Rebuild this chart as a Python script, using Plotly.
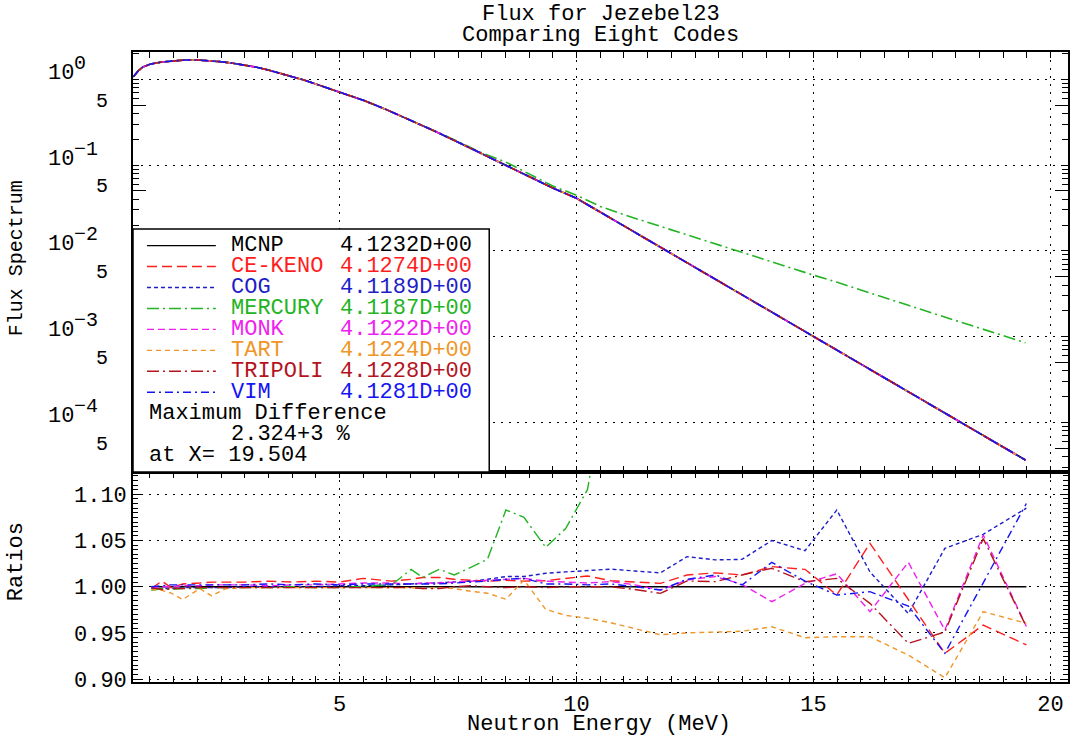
import math
import plotly.graph_objects as go

# ---------------- data ----------------
codes = ["MCNP", "CE-KENO", "COG", "MERCURY", "MONK", "TART", "TRIPOLI", "VIM"]
integrals = ["4.1232D+00", "4.1274D+00", "4.1189D+00", "4.1187D+00",
             "4.1222D+00", "4.1224D+00", "4.1228D+00", "4.1281D+00"]
colors = ["#000000", "#ff1e1e", "#1e1ec8", "#22b422",
          "#f020f0", "#f09628", "#b4141e", "#1414f5"]
dashes = ["solid", "10px,5px", "4px,3px", "12px,4px,2px,4px",
          "7px,4px", "5px,4px", "12px,4px,2px,4px", "8px,4px,2px,4px"]

energy_flux = [0.65, 0.75, 0.85, 1.0, 1.25, 1.5, 1.75, 2.0, 2.25, 2.5, 2.75, 3.0,
               3.25, 3.5, 3.75, 4.0, 4.25, 4.5, 4.75, 5.0, 5.5, 6.0, 6.5, 7.0, 7.5,
               8.0, 8.5, 9.0, 9.5, 10.0, 10.5, 11.0, 11.5, 12.0, 12.5, 13.0, 13.5,
               14.0, 14.5, 15.0, 15.5, 16.0, 16.5, 17.0, 17.5, 18.0, 18.5, 19.0, 19.47]
flux_main = [1.07, 1.25, 1.39, 1.50, 1.59, 1.65, 1.68, 1.68, 1.65, 1.60, 1.54, 1.47,
             1.38, 1.28, 1.18, 1.07, 0.98, 0.88, 0.80, 0.717, 0.57, 0.44, 0.335, 0.25,
             0.185, 0.136, 0.101, 0.074, 0.054, 0.041, 0.0283, 0.0195, 0.0135, 0.0093,
             0.0064, 0.0044, 0.00305, 0.0021, 0.00145, 0.00100, 0.00069, 0.00048,
             0.00033, 0.000227, 0.000157, 0.000108, 0.0000745, 0.0000515, 0.0000365]
flux_mercury = [1.07, 1.25, 1.39, 1.50, 1.59, 1.65, 1.68, 1.68, 1.65, 1.60, 1.54, 1.47,
                1.38, 1.28, 1.18, 1.07, 0.98, 0.88, 0.80, 0.717, 0.57, 0.44, 0.336, 0.252,
                0.188, 0.139, 0.109, 0.079, 0.057, 0.0445, 0.0330, 0.0264, 0.0215, 0.0176,
                0.0143, 0.01172, 0.0095, 0.00782, 0.0064, 0.00521, 0.0043, 0.00348,
                0.00285, 0.00232, 0.00189, 0.00155, 0.00127, 0.00103, 0.00085]

energy_ratio = [1.03, 1.25, 1.45, 1.69, 2.05, 2.3, 2.6, 3.0, 3.5, 4.0, 4.5, 5.0, 5.5,
                6.1, 6.51, 6.75, 7.1, 7.42, 7.77, 8.12, 8.51, 8.89, 9.35, 9.77, 10.23,
                10.72, 11.23, 11.77, 12.33, 12.93, 13.49, 14.12, 14.82, 15.49, 16.19,
                17.0, 17.77, 18.58, 19.49]
ratio_mcnp = [1.0] * 39
ratio_cekeno = [0.998, 1.006, 0.999, 1.003, 1.004, 1.005, 1.005, 1.005, 1.006, 1.005,
                1.006, 1.005, 1.009, 1.006, 1.008, 1.010, 1.010, 1.008, 1.007, 1.006,
                1.007, 1.006, 1.0065, 1.009, 1.0116, 1.0065, 1.005, 1.0036, 1.0127,
                1.015, 1.0127, 1.0217, 1.0188, 0.991, 1.047, 0.9856, 0.928, 0.9585, 0.937]
ratio_cog = [0.998, 0.998, 0.998, 0.999, 0.999, 0.999, 0.999, 1.0, 1.0, 1.0, 1.0, 1.001,
             1.001, 1.002, 1.003, 1.003, 1.004, 1.005, 1.006, 1.008, 1.011, 1.011, 1.0145,
             1.016, 1.0173, 1.019, 1.017, 1.015, 1.0325, 1.029, 1.0296, 1.050, 1.039,
             1.083, 1.016, 0.971, 1.0415, 1.0567, 1.085]
ratio_mercury = [0.996, 0.998, 0.997, 0.998, 0.998, 0.999, 0.999, 0.999, 0.999, 1.0,
                 0.999, 0.999, 1.0, 1.002, 1.0188, 1.010, 1.0188, 1.0127, 1.021, 1.0297,
                 1.083, 1.075, 1.0426, 1.063, 1.105, 1.25, 1.40]
ratio_monk = [0.999, 1.0, 1.0, 1.001, 1.001, 1.002, 1.002, 1.002, 1.001, 1.002, 1.002,
              1.003, 1.004, 1.004, 1.003, 1.004, 1.004, 1.005, 1.006, 1.007, 1.008, 1.009,
              1.006, 1.005, 1.004, 1.0055, 1.002, 0.9964, 1.0072, 1.011, 1.0025, 0.9838,
              1.0036, 1.014, 0.973, 1.0264, 0.953, 1.056, 0.957]
ratio_tart = [0.997, 0.996, 0.993, 0.986, 0.998, 0.990, 0.998, 0.999, 0.999, 0.999,
              0.999, 0.999, 0.999, 0.999, 0.999, 0.998, 0.999, 0.998, 0.995, 0.993,
              0.9864, 1.0073, 0.9755, 0.969, 0.966, 0.961, 0.955, 0.948, 0.950, 0.9506,
              0.9518, 0.9567, 0.9448, 0.9459, 0.9459, 0.926, 0.9015, 0.973, 0.9604]
ratio_tripoli = [0.999, 0.997, 0.998, 0.998, 0.999, 0.999, 0.999, 0.999, 0.999, 0.999,
                 0.999, 0.999, 0.999, 0.999, 0.999, 0.998, 0.998, 1.0, 1.001, 1.0, 0.999,
                 1.0, 0.999, 1.0, 1.0, 1.0, 0.997, 0.9928, 1.0062, 1.0055, 1.0127, 1.0199,
                 1.0054, 1.009, 0.982, 0.9387, 0.951, 1.052, 0.9567]
ratio_vim = [1.0, 1.001, 1.002, 1.002, 1.002, 1.002, 1.002, 1.002, 1.003, 1.002, 1.003,
             1.002, 1.003, 1.003, 1.003, 1.003, 1.003, 1.004, 1.005, 1.006, 1.008, 1.009,
             1.003, 1.003, 1.002, 1.003, 1.0, 0.9964, 1.008, 1.0127, 1.0018, 1.0264,
             1.006, 0.991, 0.9946, 0.979, 0.928, 1.0037, 1.090]

flux_series = [flux_main, flux_main, flux_main, flux_mercury,
               flux_main, flux_main, flux_main, flux_main]
ratio_series = [ratio_mcnp, ratio_cekeno, ratio_cog, ratio_mercury,
                ratio_monk, ratio_tart, ratio_tripoli, ratio_vim]

max_diff_text = ["Maximum Difference", "2.324+3 %", "at X= 19.504"]
title_lines = ["Flux for Jezebel23", "Comparing Eight Codes"]

# ---------------- figure ----------------
FONT = "Liberation Mono, Courier New, monospace"
W, H = 1073, 738
ML, MR, MT, MB = 133, 3, 52, 56
PW, PH = W - ML - MR, H - MT - MB
PLOT_L, PLOT_B = ML, H - MB


def px_x(px):
    return (px - PLOT_L) / PW


def px_y(py):
    return (PLOT_B - py) / PH


fig = go.Figure()
for i, name in enumerate(codes):
    fig.add_trace(go.Scatter(
        x=energy_flux, y=flux_series[i], mode="lines", name=name,
        line=dict(color=colors[i], dash=dashes[i], width=1.6),
        xaxis="x", yaxis="y", showlegend=False))
for i, name in enumerate(codes):
    r = ratio_series[i]
    fig.add_trace(go.Scatter(
        x=energy_ratio[:len(r)], y=r, mode="lines", name=name,
        line=dict(color=colors[i], dash=dashes[i], width=1.4),
        xaxis="x2", yaxis="y2", showlegend=False))
# carrier for the tick-only overlay axis
fig.add_trace(go.Scatter(x=[None], y=[None], xaxis="x", yaxis="y3",
                         showlegend=False, hoverinfo="skip"))

GRIDDASH = "2px,6px"
xrange_ = [0.642, 20.368]
xminor = [1.0 + 0.5 * k for k in range(38)]
common_x = dict(range=xrange_, showline=True, linecolor="black", linewidth=1.6,
                mirror="ticks", ticks="inside", ticklen=6, tickcolor="black",
                tickvals=[5, 10, 15, 20], showgrid=True, gridcolor="black",
                griddash=GRIDDASH, gridwidth=1.4, zeroline=False,
                minor=dict(tickvals=xminor, ticks="inside", ticklen=6,
                           tickcolor="black", showgrid=False))

decades = [1e-4, 1e-3, 1e-2, 1e-1, 1.0]
fives = [5e-5, 5e-4, 5e-3, 5e-2, 5e-1]
yminor = [m * 10.0 ** e for e in range(-5, 1) for m in (2, 3, 4, 6, 7, 8, 9)]
log_range = [-4.577, 0.318]

ratio_ticks = [0.90, 0.95, 1.00, 1.05, 1.10]
ratio_minor = [round(0.895 + 0.005 * k, 3) for k in range(47)]

fig.update_layout(
    width=W, height=H, margin=dict(l=ML, r=MR, t=MT, b=MB),
    paper_bgcolor="white", plot_bgcolor="white",
    font=dict(family=FONT, size=22, color="black"),
    xaxis=dict(domain=[0, 1], anchor="y", showticklabels=False, **common_x),
    xaxis2=dict(domain=[0, 1], anchor="y2", matches="x", showticklabels=True,
                tickfont=dict(family=FONT, size=22), ticklabelstandoff=1, **common_x),
    yaxis=dict(domain=[1 / 3, 1], anchor="x", type="log", range=log_range,
               tickvals=decades, ticks="inside", ticklen=6, tickcolor="black",
               showticklabels=False, showgrid=True, gridcolor="black",
               griddash=GRIDDASH, gridwidth=1.4, showline=True, linecolor="black",
               linewidth=1.6, mirror="ticks", zeroline=False,
               minor=dict(tickvals=yminor, ticks="inside", ticklen=6,
                          tickcolor="black", showgrid=False)),
    yaxis3=dict(overlaying="y", anchor="x", type="log", range=log_range,
                tickvals=fives, ticks="inside", ticklen=13, tickcolor="black",
                showticklabels=False, showgrid=False, showline=False,
                mirror="ticks", zeroline=False, side="left"),
    yaxis2=dict(domain=[0, 1 / 3], anchor="x2", range=[0.8969, 1.1241],
                tickvals=ratio_ticks, ticktext=["%.2f" % v for v in ratio_ticks],
                ticks="inside", ticklen=8, tickcolor="black",
                tickfont=dict(family=FONT, size=22), ticklabelstandoff=0,
                showgrid=True, gridcolor="black", griddash=GRIDDASH, gridwidth=1.4,
                showline=True, linecolor="black", linewidth=1.6, mirror="ticks",
                zeroline=False,
                minor=dict(tickvals=ratio_minor, ticks="inside", ticklen=5,
                           tickcolor="black", showgrid=False)),
)

ann = []
# title
for k, t in enumerate(title_lines):
    ann.append(dict(text=t, xref="paper", yref="paper", x=0.5, y=px_y(15 + 20 * k),
                    xanchor="center", yanchor="middle", showarrow=False,
                    font=dict(family=FONT, size=22)))
# axis titles
ann.append(dict(text="Neutron Energy (MeV)", xref="paper", yref="paper",
                x=px_x(600), y=px_y(724), xanchor="center", yanchor="middle",
                showarrow=False, font=dict(family=FONT, size=22)))
ann.append(dict(text="Flux Spectrum", xref="paper", yref="paper", x=px_x(16),
                y=px_y(258), textangle=-90, xanchor="center", yanchor="middle",
                showarrow=False, font=dict(family=FONT, size=20)))
ann.append(dict(text="Ratios", xref="paper", yref="paper", x=px_x(16),
                y=px_y(562), textangle=-90, xanchor="center", yanchor="middle",
                showarrow=False, font=dict(family=FONT, size=22)))
# log-axis tick labels: "10" and its exponent
for d in decades:
    e = int(round(math.log10(d)))
    exp_txt = str(e) if e >= 0 else "\u2212" + str(-e)
    ann.append(dict(text="10", xref="paper", yref="y", x=px_x(46), y=math.log10(d),
                    xanchor="left", yanchor="middle", yshift=6, showarrow=False,
                    font=dict(family=FONT, size=22)))
    ann.append(dict(text=exp_txt, xref="paper", yref="y", x=px_x(72),
                    y=math.log10(d), xanchor="left", yanchor="middle", yshift=16,
                    showarrow=False, font=dict(family=FONT, size=20)))
for f in fives:
    ann.append(dict(text="5", xref="paper", yref="y", x=px_x(110), y=math.log10(f),
                    xanchor="right", yanchor="middle", yshift=4, showarrow=False,
                    font=dict(family=FONT, size=20)))

# custom legend box
shapes = [dict(type="rect", xref="paper", yref="paper", x0=0, x1=px_x(490),
               y0=1 / 3, y1=px_y(229), fillcolor="white",
               line=dict(color="black", width=1.5), layer="above")]
row0, pitch = 245.6, 20.95
for i, name in enumerate(codes):
    yy = px_y(row0 + pitch * i)
    shapes.append(dict(type="line", xref="paper", yref="paper", x0=px_x(147),
                       x1=px_x(216), y0=yy, y1=yy, layer="above",
                       line=dict(color=colors[i], dash=dashes[i], width=1.4)))
    ann.append(dict(text=name, xref="paper", yref="paper", x=px_x(229), y=yy,
                    xanchor="left", yanchor="middle", showarrow=False,
                    font=dict(family=FONT, size=22, color=colors[i])))
    ann.append(dict(text=integrals[i], xref="paper", yref="paper", x=px_x(338), y=yy,
                    xanchor="left", yanchor="middle", showarrow=False,
                    font=dict(family=FONT, size=22, color=colors[i])))
md_x = [147, 229, 147]
for k, t in enumerate(max_diff_text):
    ann.append(dict(text=t, xref="paper", yref="paper", x=px_x(md_x[k]),
                    y=px_y(row0 + pitch * (8 + k)), xanchor="left", yanchor="middle",
                    showarrow=False, font=dict(family=FONT, size=22)))

fig.update_layout(annotations=ann, shapes=shapes)
# place the figure at the window's top-left corner (no default page margin)
fig.write_html("out.html", config={"displayModeBar": False},
               post_script="document.body.style.margin='0px';"
                           "document.body.style.padding='0px';")
